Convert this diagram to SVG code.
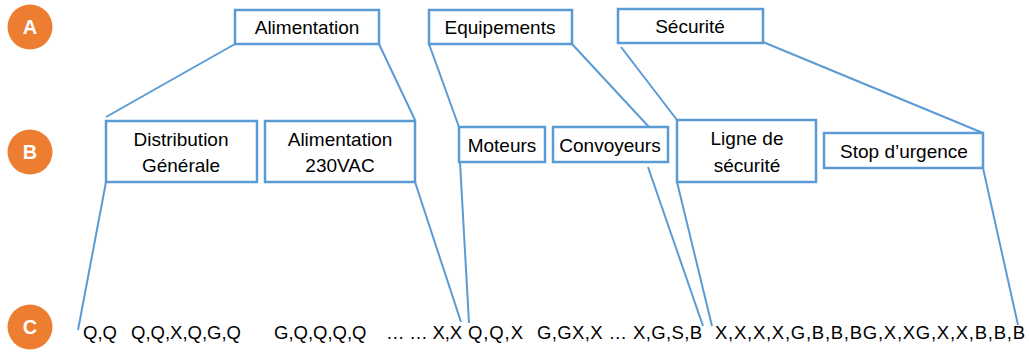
<svg xmlns="http://www.w3.org/2000/svg" width="1029" height="352" viewBox="0 0 1029 352">
<style>
.bg{fill:#ffffff}
.box{fill:#ffffff;stroke:#5B9BD5;stroke-width:2.5}
.con{stroke:#5B9BD5;stroke-width:2;fill:none}
.lbl{font-family:"Liberation Sans",Arial,sans-serif;font-size:19px;fill:#000000;text-anchor:middle}
.row{font-family:"Liberation Sans",Arial,sans-serif;font-size:18.5px;fill:#000000}
.circ{fill:#ED7D31}
.ctxt{font-family:"Liberation Sans",Arial,sans-serif;font-size:20px;font-weight:bold;fill:#ffffff;text-anchor:middle}
</style>
<rect class="bg" x="0" y="0" width="1029" height="352"/>
<g id="levels">
<g id="level-A"><circle class="circ" cx="30" cy="27" r="22.5"/><text class="ctxt" x="30" y="34">A</text></g>
<g id="level-B"><circle class="circ" cx="30" cy="152" r="22.5"/><text class="ctxt" x="30" y="159">B</text></g>
<g id="level-C"><circle class="circ" cx="30" cy="327" r="22.5"/><text class="ctxt" x="30" y="334">C</text></g>
</g>
<g id="connectors">
<line class="con" x1="235" y1="44" x2="106" y2="117"/>
<line class="con" x1="379" y1="44" x2="415" y2="120"/>
<line class="con" x1="429" y1="44" x2="459" y2="127"/>
<line class="con" x1="572" y1="44" x2="649" y2="127"/>
<line class="con" x1="621" y1="47" x2="677" y2="120"/>
<line class="con" x1="763" y1="42" x2="983" y2="133"/>
<line class="con" x1="106" y1="182" x2="78" y2="330"/>
<line class="con" x1="415" y1="182" x2="461" y2="322"/>
<line class="con" x1="460" y1="162" x2="469" y2="323"/>
<line class="con" x1="648" y1="167" x2="703" y2="326"/>
<line class="con" x1="677" y1="182" x2="712" y2="326"/>
<line class="con" x1="983" y1="168" x2="1018" y2="325"/>
</g>
<g id="node-alimentation"><rect class="box" x="235" y="10" width="144" height="34"/><text class="lbl" x="307" y="34">Alimentation</text></g>
<g id="node-equipements"><rect class="box" x="429" y="10" width="143" height="34"/><text class="lbl" x="500" y="34">Equipements</text></g>
<g id="node-securite"><rect class="box" x="618" y="9" width="145" height="34"/><text class="lbl" x="690" y="33">Sécurité</text></g>
<g id="node-distribution"><rect class="box" x="106" y="121" width="151" height="61"/><text class="lbl" x="181" y="146">Distribution</text><text class="lbl" x="181" y="172">Générale</text></g>
<g id="node-alim230"><rect class="box" x="265" y="121" width="150" height="61"/><text class="lbl" x="340" y="146">Alimentation</text><text class="lbl" x="340" y="172">230VAC</text></g>
<g id="node-moteurs"><rect class="box" x="459" y="127" width="86" height="35"/><text class="lbl" x="502" y="152">Moteurs</text></g>
<g id="node-convoyeurs"><rect class="box" x="553" y="127" width="115" height="35"/><text class="lbl" x="610" y="152">Convoyeurs</text></g>
<g id="node-ligne"><rect class="box" x="677" y="120" width="139" height="62"/><text class="lbl" x="747" y="145">Ligne de</text><text class="lbl" x="747" y="172">sécurité</text></g>
<g id="node-stop"><rect class="box" x="824" y="133" width="159" height="35"/><text class="lbl" x="904" y="158">Stop d’urgence</text></g>
<g id="row-C">
<text class="row" x="83" y="339">Q,Q</text>
<text class="row" x="131" y="339">Q,Q,X,Q,G,Q</text>
<text class="row" x="274" y="339">G,Q,Q,Q,Q</text>
<text class="row" x="386" y="339" textLength="76" lengthAdjust="spacing">… … X,X</text>
<text class="row" x="468" y="339" textLength="55" lengthAdjust="spacing">Q,Q,X</text>
<text class="row" x="537" y="339" textLength="165" lengthAdjust="spacing">G,GX,X … X,G,S,B</text>
<text class="row" x="715" y="339" textLength="310" lengthAdjust="spacing">X,X,X,X,G,B,B,BG,X,XG,X,X,B,B,B</text>
</g>
</svg>
